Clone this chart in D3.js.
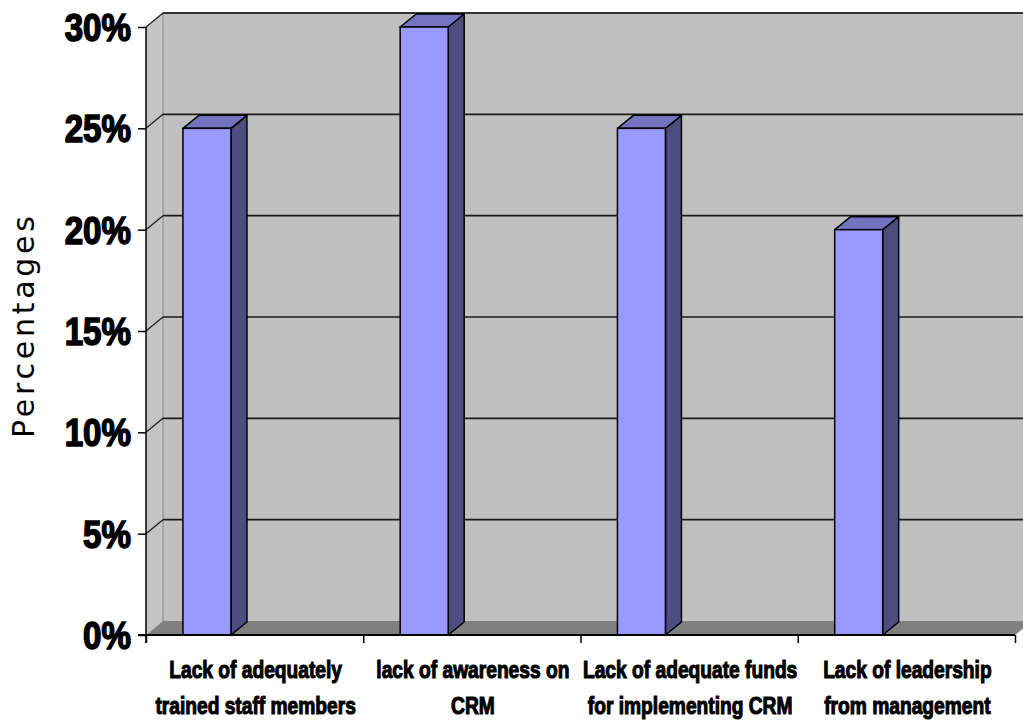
<!DOCTYPE html>
<html>
<head>
<meta charset="utf-8">
<script src="https://cdn.jsdelivr.net/npm/d3@7"></script>
<style>
html,body{margin:0;padding:0;background:#fff;}
svg{display:block;}
</style>
</head>
<body>
<svg id="chart" width="1023" height="720"></svg>
<script>
const categories = [
  ["Lack of adequately", "trained staff members"],
  ["lack of awareness on", "CRM"],
  ["Lack of adequate funds", "for implementing CRM"],
  ["Lack of leadership", "from management"]
];
const values = [0.25, 0.30, 0.25, 0.20];
const yTicks = [0, 0.05, 0.10, 0.15, 0.20, 0.25, 0.30];
const yTitle = "Percentages";

const svg = d3.select("#chart");
const W = 1023, H = 720;
const x0 = 146, x1 = 1015, yBase = 635, yTop = 27;
const dx = 17, dy = -14;      // wall depth
const bdx = 16, bdy = -13;    // bar depth

const y = d3.scaleLinear().domain([0, 0.3]).range([yBase, yTop]);
const x = d3.scaleBand().domain(d3.range(categories.length)).range([x0, x1]).padding(0);
const bw = x.bandwidth();

// back wall
svg.append("polygon")
  .attr("points", [[x0+dx, yTop+dy], [W+5, yTop+dy], [W+5, yBase+dy], [x0+dx, yBase+dy]].join(" "))
  .attr("fill", "#c0c0c0");
// side wall
svg.append("polygon")
  .attr("points", [[x0, yTop], [x0+dx, yTop+dy], [x0+dx, yBase+dy], [x0, yBase]].join(" "))
  .attr("fill", "#c4c4c4");
// wall edges
svg.append("line").attr("x1", x0+dx).attr("x2", W+5).attr("y1", yTop+dy).attr("y2", yTop+dy)
  .attr("stroke", "#808080").attr("stroke-width", 2);
svg.append("line").attr("x1", x0+dx).attr("x2", x0+dx).attr("y1", yTop+dy).attr("y2", yBase+dy)
  .attr("stroke", "#9a9a9a").attr("stroke-width", 1.5);

// gridlines
const grid = svg.append("g");
yTicks.forEach(t => {
  if (t === 0) return;
  grid.append("line").attr("x1", x0+dx).attr("x2", W+5)
    .attr("y1", y(t)+dy).attr("y2", y(t)+dy)
    .attr("stroke", "#1a1a1a").attr("stroke-width", 1.6);
  grid.append("line").attr("x1", x0).attr("x2", x0+dx)
    .attr("y1", y(t)).attr("y2", y(t)+dy)
    .attr("stroke", "#1a1a1a").attr("stroke-width", 1.2);
});

// floor
svg.append("polygon")
  .attr("points", [[x0, yBase], [x1, yBase], [x1+dx, yBase+dy], [x0+dx, yBase+dy]].join(" "))
  .attr("fill", "#808080");

// bars
const bars = svg.append("g");
values.forEach((v, i) => {
  const bx = x(i) + bw * 0.17, w = bw * 0.221, top = y(v);
  bars.append("polygon")
    .attr("points", [[bx+w, top], [bx+w+bdx, top+bdy], [bx+w+bdx, yBase+bdy], [bx+w, yBase]].join(" "))
    .attr("fill", "#4d4d80").attr("stroke", "#000").attr("stroke-width", 1.5).attr("stroke-linejoin", "round");
  bars.append("polygon")
    .attr("points", [[bx, top], [bx+bdx, top+bdy], [bx+w+bdx, top+bdy], [bx+w, top]].join(" "))
    .attr("fill", "#7373bf").attr("stroke", "#000").attr("stroke-width", 1.5).attr("stroke-linejoin", "round");
  bars.append("rect")
    .attr("x", bx).attr("y", top).attr("width", w).attr("height", yBase - top)
    .attr("fill", "#9999ff").attr("stroke", "#000").attr("stroke-width", 1.5);
});

// y axis
const yAxis = svg.append("g").attr("transform", `translate(${x0},0)`)
  .call(d3.axisLeft(y).tickValues(yTicks).tickSize(8).tickSizeOuter(0).tickFormat(() => ""));
yAxis.select(".domain").attr("stroke", "#000").attr("stroke-width", 1.5).attr("d", `M0,${yTop}V${yBase+8}`);
yAxis.selectAll(".tick line").attr("stroke", "#000").attr("stroke-width", 1.5);

// x axis
const xl = d3.scaleLinear().domain([0, categories.length]).range([x0, x1]);
const xAxis = svg.append("g").attr("transform", `translate(0,${yBase})`)
  .call(d3.axisBottom(xl).ticks(categories.length).tickSize(8).tickSizeOuter(0).tickFormat(() => ""));
xAxis.select(".domain").attr("stroke", "#000").attr("stroke-width", 1.8).attr("d", `M${x0-8},0H${x1}`);
xAxis.selectAll(".tick line").attr("stroke", "#000").attr("stroke-width", 1.5);

// y tick labels
const fmt = d3.format(".0%");
yTicks.forEach(t => {
  svg.append("g").attr("transform", `translate(131,${y(t)+14}) scale(0.85,1)`)
    .append("text").attr("text-anchor", "end")
    .attr("font-family", "Liberation Sans, Arial, sans-serif").attr("font-weight", "bold")
    .attr("font-size", 39).attr("fill", "#000").attr("stroke", "#000").attr("stroke-width", 1.6)
    .text(fmt(t));
});

// category labels
categories.forEach((lines, i) => {
  const cx = x(i) + bw / 2 + 1;
  lines.forEach((ln, j) => {
    svg.append("g").attr("transform", `translate(${cx},${678 + j * 36}) scale(0.8,1)`)
      .append("text").attr("text-anchor", "middle")
      .attr("font-family", "Liberation Sans, Arial, sans-serif").attr("font-weight", "bold")
      .attr("font-size", 24).attr("fill", "#000").attr("stroke", "#000").attr("stroke-width", 1.1)
      .text(ln);
  });
});

// y title
svg.append("text")
  .attr("transform", "translate(34,327) rotate(-90)")
  .attr("text-anchor", "middle")
  .attr("font-family", "DejaVu Sans, Verdana, sans-serif")
  .attr("font-size", 30).attr("fill", "#000")
  .attr("textLength", 222).attr("lengthAdjust", "spacing")
  .text(yTitle);
</script>
</body>
</html>
